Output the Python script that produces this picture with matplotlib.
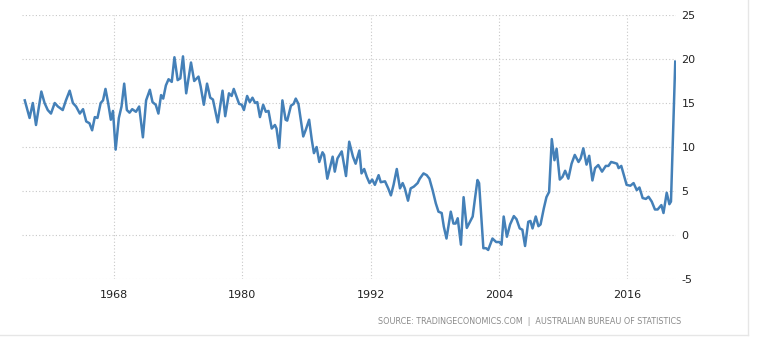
import matplotlib
matplotlib.use("Agg")
import matplotlib.pyplot as plt
from matplotlib.lines import Line2D

plt.rcParams["axes.unicode_minus"] = False

years = [
    1959.65, 1960.1, 1960.4, 1960.7, 1961.2, 1961.5, 1961.8, 1962.1, 1962.45, 1962.75,
    1963.2, 1963.5, 1963.85, 1964.15, 1964.45, 1964.8, 1965.1, 1965.4, 1965.7, 1965.95,
    1966.2, 1966.45, 1966.75, 1966.97, 1967.2, 1967.45, 1967.7, 1967.9, 1968.15, 1968.45,
    1968.7, 1968.95, 1969.2, 1969.45, 1969.7, 1970.05, 1970.35, 1970.7, 1971.0, 1971.35,
    1971.6, 1971.9, 1972.15, 1972.4, 1972.6, 1972.85, 1973.1, 1973.4, 1973.65, 1973.95,
    1974.2, 1974.45, 1974.75, 1975.2, 1975.5, 1975.9, 1976.1, 1976.4, 1976.7, 1977.0,
    1977.25, 1977.7, 1978.15, 1978.4, 1978.75, 1979.0, 1979.2, 1979.7, 1979.95, 1980.15,
    1980.45, 1980.7, 1980.95, 1981.2, 1981.4, 1981.65, 1981.95, 1982.2, 1982.45, 1982.75,
    1983.05, 1983.2, 1983.45, 1983.75, 1984.05, 1984.2, 1984.55, 1984.8, 1985.0, 1985.25,
    1985.7, 1985.95, 1986.25, 1986.5, 1986.7, 1986.95, 1987.2, 1987.5, 1987.65, 1987.95,
    1988.45, 1988.65, 1988.9, 1989.3, 1989.7, 1990.0, 1990.35, 1990.6, 1990.95, 1991.15,
    1991.4, 1991.65, 1991.9, 1992.15, 1992.4, 1992.75, 1992.95, 1993.35, 1993.65, 1993.9,
    1994.15, 1994.45, 1994.75, 1995.0, 1995.2, 1995.5, 1995.75, 1996.05, 1996.4, 1996.6,
    1996.95, 1997.25, 1997.5, 1997.8, 1998.1, 1998.35, 1998.65, 1998.85, 1999.1, 1999.5,
    1999.75, 1999.95, 2000.15, 2000.45, 2000.7, 2001.0, 2001.3, 2001.55, 2001.75, 2002.0,
    2002.15, 2002.55, 2002.8, 2003.0, 2003.4, 2003.75, 2004.05, 2004.25, 2004.45, 2004.75,
    2005.05, 2005.4, 2005.65, 2005.95, 2006.2, 2006.45, 2006.75, 2006.95, 2007.15, 2007.45,
    2007.7, 2007.9, 2008.2, 2008.45, 2008.7, 2008.95, 2009.2, 2009.4, 2009.7, 2009.95,
    2010.2, 2010.5, 2010.8, 2011.1, 2011.45, 2011.65, 2011.9, 2012.2, 2012.45, 2012.75,
    2013.0, 2013.3, 2013.65, 2014.0, 2014.25, 2014.5, 2014.8, 2015.05, 2015.2, 2015.45,
    2015.65, 2015.95, 2016.3, 2016.6, 2016.9, 2017.15, 2017.45, 2017.75, 2018.0, 2018.3,
    2018.6, 2018.85, 2019.2, 2019.4, 2019.7, 2019.95, 2020.1, 2020.5,
]
ratio = [
    15.3, 13.3, 15.0, 12.5, 16.3, 15.0, 14.2, 13.8, 15.0, 14.6,
    14.2, 15.3, 16.4, 15.0, 14.6, 13.8, 14.3, 12.9, 12.7, 11.9,
    13.4, 13.3, 15.0, 15.3, 16.6, 15.0, 13.1, 14.1, 9.7, 13.3,
    14.6, 17.2, 14.2, 13.9, 14.3, 14.0, 14.6, 11.1, 15.3, 16.5,
    15.1, 14.8, 13.8, 15.9, 15.5, 17.0, 17.7, 17.4, 20.2, 17.6,
    17.8, 20.3, 16.1, 19.6, 17.5, 18.0, 16.9, 14.8, 17.2, 15.6,
    15.4, 12.8, 16.4, 13.5, 16.1, 15.8, 16.6, 14.9, 14.8, 14.2,
    15.8, 15.1, 15.6, 15.0, 15.1, 13.4, 14.8, 14.0, 14.1, 12.1,
    12.5, 12.1, 9.9, 15.3, 13.1, 13.0, 14.7, 14.9, 15.5, 14.9,
    11.2, 12.0, 13.1, 10.8, 9.3, 10.0, 8.3, 9.4, 9.1, 6.4,
    8.9, 7.2, 8.7, 9.5, 6.7, 10.6, 8.9, 8.1, 9.6, 7.0,
    7.5, 6.6, 5.9, 6.3, 5.7, 6.8, 6.0, 6.1, 5.3, 4.5,
    5.7, 7.5, 5.3, 5.9, 5.3, 3.9, 5.3, 5.5, 5.9, 6.4,
    7.0, 6.8, 6.4, 5.1, 3.6, 2.65, 2.5, 0.95, -0.4, 2.65,
    1.3, 1.3, 1.9, -1.1, 4.3, 0.8, 1.5, 2.1, 4.0, 6.25,
    5.9, -1.5, -1.5, -1.7, -0.4, -0.8, -0.8, -1.1, 2.1, -0.2,
    1.2, 2.15, 1.8, 0.75, 0.6, -1.25, 1.5, 1.6, 0.75, 2.1,
    1.0, 1.2, 3.0, 4.3, 4.9, 10.9, 8.5, 9.8, 6.3, 6.6,
    7.3, 6.4, 8.1, 9.1, 8.3, 8.7, 9.85, 8.0, 9.0, 6.2,
    7.6, 7.95, 7.2, 7.85, 7.85, 8.3, 8.2, 8.1, 7.6, 7.85,
    7.0, 5.7, 5.6, 5.9, 5.1, 5.4, 4.2, 4.1, 4.35, 3.8,
    2.9, 2.9, 3.4, 2.5, 4.8, 3.5, 3.8, 19.7,
]
x_ticks = [1968, 1980, 1992, 2004, 2016]
y_ticks = [-5, 0, 5, 10, 15, 20, 25]
source = "SOURCE: TRADINGECONOMICS.COM  |  AUSTRALIAN BUREAU OF STATISTICS"

W, H = 757, 347
fig = plt.figure(figsize=(W / 100, H / 100), dpi=100)
fig.patch.set_facecolor("white")

ax = fig.add_axes([22 / W, (H - 279) / H, 654 / W, 264 / H])
ax.plot(years, ratio, color="#4480b8", lw=1.8, solid_joinstyle="round")

ax.set_xlim(1959.39, 2020.57)
ax.set_ylim(-5, 25)
ax.set_xticks(x_ticks)
ax.set_yticks(y_ticks)
ax.yaxis.tick_right()
ax.tick_params(axis="both", length=0, labelsize=8, labelcolor="#222222")
ax.tick_params(axis="y", pad=4)
ax.tick_params(axis="x", pad=8)
for lab in ax.get_yticklabels():
    lab.set_horizontalalignment("left")
ax.grid(True, color="#c8c8c8", linestyle=(0, (1, 2)), linewidth=0.8)
ax.set_axisbelow(True)
for s in ax.spines.values():
    s.set_visible(False)

# light card border on the right and bottom
fig.add_artist(Line2D([0, 748 / W], [1 - 335 / H] * 2, color="#e6e6e6", lw=1))
fig.add_artist(Line2D([748 / W] * 2, [1, 1 - 335 / H], color="#e6e6e6", lw=1))

fig.text(378 / W, 1 - 321 / H, source, ha="left", va="center",
         fontsize=5.8, color="#8a8a8a")

fig.savefig("out.png", dpi=100)
